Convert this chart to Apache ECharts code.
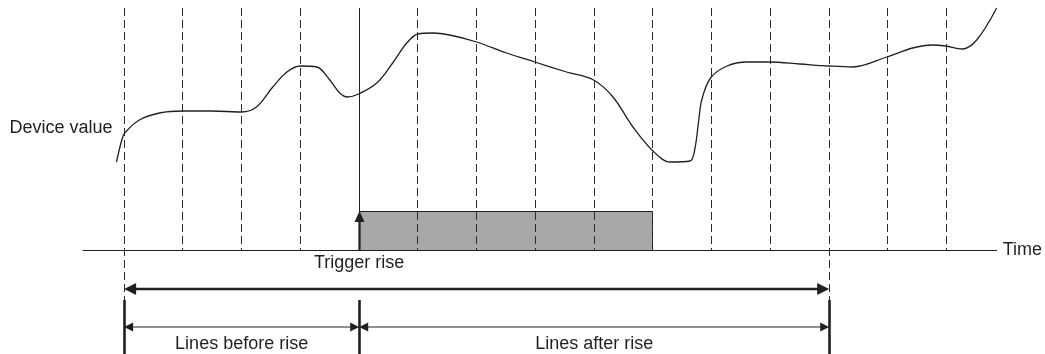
<!DOCTYPE html>
<html><head><meta charset="utf-8">
<script src="https://cdn.jsdelivr.net/npm/echarts@6/dist/echarts.min.js"></script>
<style>html,body{margin:0;padding:0;background:#fff}#chart{width:1045px;height:354px}</style>
</head><body><div id="chart"></div>
<script>
// ---- data ----
// sampling lines (time units); line 4 is the trigger rise (drawn solid)
const samplingLines = [0, 1, 2, 3, 5, 6, 7, 8, 9, 10, 11, 12, 13, 14];
const rangeBounds = [0, 12];      // first and last sampling line of the captured range
const triggerRise = 4;
const triggerFall = 9;
const triggerHigh = 19.5;         // height of the trigger pulse (value units)
// device value curve
const curveTime = [-0.13, -0.04, 0.01, 0.26, 0.6, 1.0, 1.5, 2.0, 2.25, 2.53, 2.77, 3.0, 3.28, 3.5, 3.67, 3.8, 3.99, 4.3, 4.57, 4.81, 5.0, 5.25, 5.54, 6.0, 6.51, 6.99, 7.53, 7.99, 8.32, 8.66, 9.0, 9.29, 9.63, 9.71, 9.78, 9.83, 9.98, 10.26, 10.6, 10.99, 11.5, 11.99, 12.4, 12.98, 13.42, 13.76, 13.98, 14.26, 14.51, 14.85];
const curveValue = [44, 55, 58.5, 65, 68.5, 69.5, 69.5, 69, 71.5, 81.5, 89, 92, 91.5, 85, 78.5, 76.5, 78, 83.5, 93.5, 103.5, 108, 108.5, 107.5, 104, 98.5, 94, 89, 85, 76.5, 61.5, 49.5, 44, 44.5, 50, 65, 75, 86, 92, 94, 94, 93, 92, 91.5, 96.5, 101, 102.5, 102, 100.5, 105, 121];
// texts
const deviceLabel = 'Device value';
const timeLabel = 'Time';
const triggerLabel = 'Trigger rise';
const beforeLabel = 'Lines before rise';
const afterLabel = 'Lines after rise';

// ---- chart ----
const INK = '#231f20';
const FONT = '"Liberation Sans", Arial, sans-serif';
const FS = 18;
const TOP_V = 121, EXT_V = -25, BOTTOM_V = -52, THICK_V = -19.5, THIN_V = -38.5;
const crisp = x => Math.round(x - 0.5) + 0.5;

const chart = echarts.init(document.getElementById('chart'), null, {renderer: 'canvas'});

function hArrow(level, lw, hl, hw) {
  return function (p, api) {
    const a = api.coord([api.value(0), level]);
    const b = api.coord([api.value(1), level]);
    return {type: 'group', children: [
      {type: 'line', shape: {x1: a[0] + hl * 0.6, y1: a[1], x2: b[0] - hl * 0.6, y2: b[1]}, style: {stroke: INK, lineWidth: lw}},
      {type: 'polygon', shape: {points: [[a[0], a[1]], [a[0] + hl, a[1] - hw], [a[0] + hl, a[1] + hw]]}, style: {fill: INK}},
      {type: 'polygon', shape: {points: [[b[0], b[1]], [b[0] - hl, b[1] - hw], [b[0] - hl, b[1] + hw]]}, style: {fill: INK}}
    ]};
  };
}

const texts = [
  {text: deviceLabel, at: [-1.95, 61], align: 'left'},
  {text: triggerLabel, at: [triggerRise, -6.5], align: 'center'},
  {text: beforeLabel, at: [(rangeBounds[0] + triggerRise) / 2, -47.2], align: 'center'},
  {text: afterLabel, at: [(triggerRise + rangeBounds[1]) / 2, -47.2], align: 'center'}
];

chart.setOption({
  animation: false,
  grid: {left: 83, right: 48, top: 0, bottom: 0},
  xAxis: {
    type: 'value', min: -0.7, max: 14.85,
    axisLine: {show: true, onZero: true, lineStyle: {color: INK, width: 1}},
    axisTick: {show: false}, axisLabel: {show: false}, splitLine: {show: false},
    name: timeLabel, nameLocation: 'end', nameGap: 6,
    nameTextStyle: {color: INK, fontSize: FS, fontFamily: FONT, verticalAlign: 'middle'}
  },
  yAxis: {
    type: 'value', min: BOTTOM_V, max: 125,
    axisLine: {show: false}, axisTick: {show: false}, axisLabel: {show: false}, splitLine: {show: false}
  },
  series: [
    { // trigger pulse
      type: 'custom', z: 1, clip: false,
      data: [[triggerRise, triggerFall]],
      renderItem(p, api) {
        const a = api.coord([api.value(0), triggerHigh]);
        const b = api.coord([api.value(1), 0]);
        const x0 = crisp(a[0]), x1 = crisp(b[0]), y0 = crisp(a[1]), y1 = crisp(b[1]);
        return {type: 'rect', shape: {x: x0, y: y0, width: x1 - x0, height: y1 - y0},
          style: {fill: '#a7a8aa', stroke: INK, lineWidth: 1}};
      }
    },
    { // dashed sampling lines
      type: 'custom', z: 2, clip: false,
      data: samplingLines.map(t => [t, 0]),
      renderItem(p, api) {
        const t = api.value(0);
        const a = api.coord([t, TOP_V]);
        const b = api.coord([t, rangeBounds.includes(t) ? EXT_V : 0]);
        const x = crisp(a[0]);
        return {type: 'line', shape: {x1: x, y1: a[1], x2: x, y2: b[1]},
          style: {stroke: '#2a2a2a', lineWidth: 1, lineDash: [8, 4]}};
      }
    },
    { // trigger rise solid line + arrow
      type: 'custom', z: 3, clip: false,
      data: [[triggerRise, triggerHigh]],
      renderItem(p, api) {
        const top = api.coord([api.value(0), TOP_V]);
        const zero = api.coord([api.value(0), 0]);
        const hi = api.coord([api.value(0), api.value(1)]);
        const x = crisp(top[0]);
        return {type: 'group', children: [
          {type: 'line', shape: {x1: x, y1: top[1], x2: x, y2: zero[1]}, style: {stroke: INK, lineWidth: 1}},
          {type: 'line', shape: {x1: x, y1: zero[1], x2: x, y2: hi[1] + 8}, style: {stroke: INK, lineWidth: 2.2}},
          {type: 'polygon', shape: {points: [[x, hi[1]], [x - 5, hi[1] + 11], [x + 5, hi[1] + 11]]}, style: {fill: INK}}
        ]};
      }
    },
    { // range bars
      type: 'custom', z: 3, clip: false,
      data: [rangeBounds[0], triggerRise, rangeBounds[1]].map(t => [t, 0]),
      renderItem(p, api) {
        const a = api.coord([api.value(0), EXT_V]);
        const b = api.coord([api.value(0), BOTTOM_V]);
        const x = crisp(a[0]);
        return {type: 'line', shape: {x1: x, y1: a[1], x2: x, y2: b[1]}, style: {stroke: INK, lineWidth: 2.6}};
      }
    },
    { // captured range (thick)
      type: 'custom', z: 3, clip: false,
      data: [[rangeBounds[0], rangeBounds[1]]],
      renderItem: hArrow(THICK_V, 2.6, 12, 6)
    },
    { // before / after (thin)
      type: 'custom', z: 3, clip: false,
      data: [[rangeBounds[0], triggerRise], [triggerRise, rangeBounds[1]]],
      renderItem: hArrow(THIN_V, 1.2, 9, 4.5)
    },
    { // device value curve
      type: 'line', z: 4, smooth: 0.35, showSymbol: false, symbol: 'none', clip: false,
      lineStyle: {color: INK, width: 1.3},
      data: curveTime.map((t, i) => [t, curveValue[i]])
    },
    { // texts
      type: 'custom', z: 5, clip: false,
      data: texts.map((d, i) => [d.at[0], d.at[1], i]),
      renderItem(p, api) {
        const d = texts[api.value(2)];
        const c = api.coord([api.value(0), api.value(1)]);
        return {type: 'text', x: c[0], y: c[1],
          style: {text: d.text, fill: INK, font: FS + 'px ' + FONT, align: d.align, verticalAlign: 'middle'}};
      }
    }
  ]
});
</script></body></html>
